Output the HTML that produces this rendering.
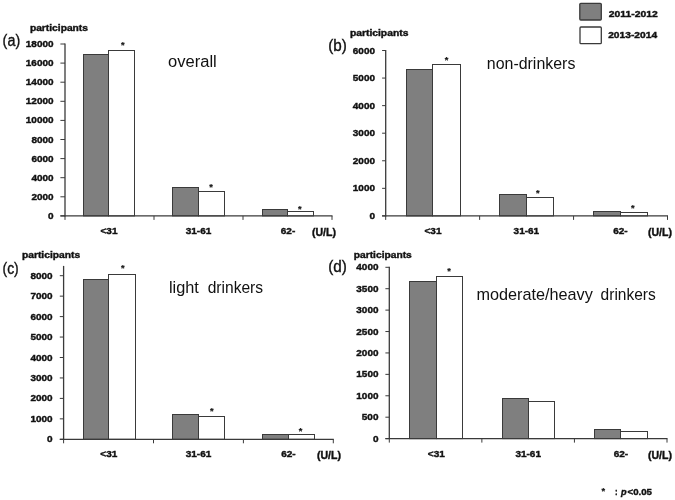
<!DOCTYPE html>
<html><head><meta charset="utf-8"><title>Figure</title>
<style>
html,body{margin:0;padding:0;background:#fff;}
svg{display:block;font-family:"Liberation Sans",sans-serif;fill:#111;}
svg text{fill:#111;}
</style></head><body>
<svg width="675" height="500" viewBox="0 0 675 500">
<rect x="0" y="0" width="675" height="500" fill="#ffffff" stroke="none"/>
<rect x="83.50" y="54.50" width="25.00" height="161.40" fill="#7f7f7f" stroke="#3a3a3a" stroke-width="1"/>
<rect x="108.50" y="50.50" width="26.00" height="165.40" fill="#ffffff" stroke="#3a3a3a" stroke-width="1"/>
<rect x="172.50" y="187.50" width="26.00" height="28.40" fill="#7f7f7f" stroke="#3a3a3a" stroke-width="1"/>
<rect x="198.50" y="191.50" width="26.00" height="24.40" fill="#ffffff" stroke="#3a3a3a" stroke-width="1"/>
<rect x="262.50" y="209.50" width="25.00" height="6.40" fill="#7f7f7f" stroke="#3a3a3a" stroke-width="1"/>
<rect x="287.50" y="211.50" width="26.00" height="4.40" fill="#ffffff" stroke="#3a3a3a" stroke-width="1"/>
<line x1="65.00" y1="43.50" x2="65.00" y2="216.40" stroke="#3a3a3a" stroke-width="1.3"/>
<line x1="60.40" y1="215.90" x2="332.50" y2="215.90" stroke="#3a3a3a" stroke-width="1.2"/>
<line x1="65.00" y1="215.90" x2="65.00" y2="219.90" stroke="#3a3a3a" stroke-width="1"/>
<line x1="154.00" y1="215.90" x2="154.00" y2="219.90" stroke="#3a3a3a" stroke-width="1"/>
<line x1="243.00" y1="215.90" x2="243.00" y2="219.90" stroke="#3a3a3a" stroke-width="1"/>
<line x1="332.00" y1="215.90" x2="332.00" y2="219.90" stroke="#3a3a3a" stroke-width="1"/>
<line x1="60.40" y1="215.90" x2="65.00" y2="215.90" stroke="#3a3a3a" stroke-width="1"/>
<text x="53.60" y="218.90" font-size="9.5" text-anchor="end" font-weight="700" textLength="5.6" lengthAdjust="spacingAndGlyphs" stroke="#111" stroke-width="0.4">0</text>
<line x1="60.40" y1="196.80" x2="65.00" y2="196.80" stroke="#3a3a3a" stroke-width="1"/>
<text x="53.60" y="199.80" font-size="9.5" text-anchor="end" font-weight="700" textLength="22.2" lengthAdjust="spacingAndGlyphs" stroke="#111" stroke-width="0.4">2000</text>
<line x1="60.40" y1="177.70" x2="65.00" y2="177.70" stroke="#3a3a3a" stroke-width="1"/>
<text x="53.60" y="180.70" font-size="9.5" text-anchor="end" font-weight="700" textLength="22.2" lengthAdjust="spacingAndGlyphs" stroke="#111" stroke-width="0.4">4000</text>
<line x1="60.40" y1="158.60" x2="65.00" y2="158.60" stroke="#3a3a3a" stroke-width="1"/>
<text x="53.60" y="161.60" font-size="9.5" text-anchor="end" font-weight="700" textLength="22.2" lengthAdjust="spacingAndGlyphs" stroke="#111" stroke-width="0.4">6000</text>
<line x1="60.40" y1="139.50" x2="65.00" y2="139.50" stroke="#3a3a3a" stroke-width="1"/>
<text x="53.60" y="142.50" font-size="9.5" text-anchor="end" font-weight="700" textLength="22.2" lengthAdjust="spacingAndGlyphs" stroke="#111" stroke-width="0.4">8000</text>
<line x1="60.40" y1="120.40" x2="65.00" y2="120.40" stroke="#3a3a3a" stroke-width="1"/>
<text x="53.60" y="123.40" font-size="9.5" text-anchor="end" font-weight="700" textLength="27.8" lengthAdjust="spacingAndGlyphs" stroke="#111" stroke-width="0.4">10000</text>
<line x1="60.40" y1="101.30" x2="65.00" y2="101.30" stroke="#3a3a3a" stroke-width="1"/>
<text x="53.60" y="104.30" font-size="9.5" text-anchor="end" font-weight="700" textLength="27.8" lengthAdjust="spacingAndGlyphs" stroke="#111" stroke-width="0.4">12000</text>
<line x1="60.40" y1="82.20" x2="65.00" y2="82.20" stroke="#3a3a3a" stroke-width="1"/>
<text x="53.60" y="85.20" font-size="9.5" text-anchor="end" font-weight="700" textLength="27.8" lengthAdjust="spacingAndGlyphs" stroke="#111" stroke-width="0.4">14000</text>
<line x1="60.40" y1="63.10" x2="65.00" y2="63.10" stroke="#3a3a3a" stroke-width="1"/>
<text x="53.60" y="66.10" font-size="9.5" text-anchor="end" font-weight="700" textLength="27.8" lengthAdjust="spacingAndGlyphs" stroke="#111" stroke-width="0.4">16000</text>
<line x1="60.40" y1="44.00" x2="65.00" y2="44.00" stroke="#3a3a3a" stroke-width="1"/>
<text x="53.60" y="47.00" font-size="9.5" text-anchor="end" font-weight="700" textLength="27.8" lengthAdjust="spacingAndGlyphs" stroke="#111" stroke-width="0.4">18000</text>
<text x="122.70" y="48" font-size="9.3" text-anchor="middle" font-weight="700" stroke="#111" stroke-width="0.2">*</text>
<text x="211.00" y="190" font-size="9.3" text-anchor="middle" font-weight="700" stroke="#111" stroke-width="0.2">*</text>
<text x="299.80" y="212" font-size="9.3" text-anchor="middle" font-weight="700" stroke="#111" stroke-width="0.2">*</text>
<text x="109.00" y="234.27" font-size="9.7" text-anchor="middle" font-weight="700" textLength="17.0" lengthAdjust="spacingAndGlyphs" stroke="#111" stroke-width="0.4">&lt;31</text>
<text x="198.50" y="234.27" font-size="9.7" text-anchor="middle" font-weight="700" textLength="25.6" lengthAdjust="spacingAndGlyphs" stroke="#111" stroke-width="0.4">31-61</text>
<text x="288.00" y="234.27" font-size="9.7" text-anchor="middle" font-weight="700" textLength="14.5" lengthAdjust="spacingAndGlyphs" stroke="#111" stroke-width="0.4">62-</text>
<text x="312.00" y="235.98" font-size="10.56" font-weight="700" textLength="24.0" lengthAdjust="spacingAndGlyphs" stroke="#111" stroke-width="0.4">(U/L)</text>
<rect x="406.50" y="69.50" width="26.00" height="146.40" fill="#7f7f7f" stroke="#3a3a3a" stroke-width="1"/>
<rect x="432.50" y="64.50" width="28.00" height="151.40" fill="#ffffff" stroke="#3a3a3a" stroke-width="1"/>
<rect x="499.50" y="194.50" width="27.00" height="21.40" fill="#7f7f7f" stroke="#3a3a3a" stroke-width="1"/>
<rect x="526.50" y="197.50" width="27.00" height="18.40" fill="#ffffff" stroke="#3a3a3a" stroke-width="1"/>
<rect x="593.50" y="211.50" width="27.00" height="4.40" fill="#7f7f7f" stroke="#3a3a3a" stroke-width="1"/>
<rect x="620.50" y="212.50" width="27.00" height="3.40" fill="#ffffff" stroke="#3a3a3a" stroke-width="1"/>
<line x1="385.70" y1="50.00" x2="385.70" y2="216.40" stroke="#3a3a3a" stroke-width="1.3"/>
<line x1="382.10" y1="215.90" x2="668.00" y2="215.90" stroke="#3a3a3a" stroke-width="1.2"/>
<line x1="385.70" y1="215.90" x2="385.70" y2="219.90" stroke="#3a3a3a" stroke-width="1"/>
<line x1="479.63" y1="215.90" x2="479.63" y2="219.90" stroke="#3a3a3a" stroke-width="1"/>
<line x1="573.57" y1="215.90" x2="573.57" y2="219.90" stroke="#3a3a3a" stroke-width="1"/>
<line x1="667.50" y1="215.90" x2="667.50" y2="219.90" stroke="#3a3a3a" stroke-width="1"/>
<line x1="382.10" y1="215.90" x2="385.70" y2="215.90" stroke="#3a3a3a" stroke-width="1"/>
<text x="375.00" y="218.90" font-size="9.5" text-anchor="end" font-weight="700" textLength="5.6" lengthAdjust="spacingAndGlyphs" stroke="#111" stroke-width="0.4">0</text>
<line x1="382.10" y1="188.33" x2="385.70" y2="188.33" stroke="#3a3a3a" stroke-width="1"/>
<text x="375.00" y="191.33" font-size="9.5" text-anchor="end" font-weight="700" textLength="22.2" lengthAdjust="spacingAndGlyphs" stroke="#111" stroke-width="0.4">1000</text>
<line x1="382.10" y1="160.77" x2="385.70" y2="160.77" stroke="#3a3a3a" stroke-width="1"/>
<text x="375.00" y="163.77" font-size="9.5" text-anchor="end" font-weight="700" textLength="22.2" lengthAdjust="spacingAndGlyphs" stroke="#111" stroke-width="0.4">2000</text>
<line x1="382.10" y1="133.20" x2="385.70" y2="133.20" stroke="#3a3a3a" stroke-width="1"/>
<text x="375.00" y="136.20" font-size="9.5" text-anchor="end" font-weight="700" textLength="22.2" lengthAdjust="spacingAndGlyphs" stroke="#111" stroke-width="0.4">3000</text>
<line x1="382.10" y1="105.63" x2="385.70" y2="105.63" stroke="#3a3a3a" stroke-width="1"/>
<text x="375.00" y="108.63" font-size="9.5" text-anchor="end" font-weight="700" textLength="22.2" lengthAdjust="spacingAndGlyphs" stroke="#111" stroke-width="0.4">4000</text>
<line x1="382.10" y1="78.07" x2="385.70" y2="78.07" stroke="#3a3a3a" stroke-width="1"/>
<text x="375.00" y="81.07" font-size="9.5" text-anchor="end" font-weight="700" textLength="22.2" lengthAdjust="spacingAndGlyphs" stroke="#111" stroke-width="0.4">5000</text>
<line x1="382.10" y1="50.50" x2="385.70" y2="50.50" stroke="#3a3a3a" stroke-width="1"/>
<text x="375.00" y="53.50" font-size="9.5" text-anchor="end" font-weight="700" textLength="22.2" lengthAdjust="spacingAndGlyphs" stroke="#111" stroke-width="0.4">6000</text>
<text x="446.60" y="63" font-size="9.3" text-anchor="middle" font-weight="700" stroke="#111" stroke-width="0.2">*</text>
<text x="537.70" y="196" font-size="9.3" text-anchor="middle" font-weight="700" stroke="#111" stroke-width="0.2">*</text>
<text x="632.70" y="211" font-size="9.3" text-anchor="middle" font-weight="700" stroke="#111" stroke-width="0.2">*</text>
<text x="433.00" y="234.27" font-size="9.7" text-anchor="middle" font-weight="700" textLength="17.0" lengthAdjust="spacingAndGlyphs" stroke="#111" stroke-width="0.4">&lt;31</text>
<text x="526.40" y="234.27" font-size="9.7" text-anchor="middle" font-weight="700" textLength="25.6" lengthAdjust="spacingAndGlyphs" stroke="#111" stroke-width="0.4">31-61</text>
<text x="620.40" y="234.27" font-size="9.7" text-anchor="middle" font-weight="700" textLength="14.5" lengthAdjust="spacingAndGlyphs" stroke="#111" stroke-width="0.4">62-</text>
<text x="648.00" y="236.18" font-size="10.56" font-weight="700" textLength="24.0" lengthAdjust="spacingAndGlyphs" stroke="#111" stroke-width="0.4">(U/L)</text>
<rect x="83.50" y="279.50" width="25.00" height="159.80" fill="#7f7f7f" stroke="#3a3a3a" stroke-width="1"/>
<rect x="108.50" y="274.50" width="27.00" height="164.80" fill="#ffffff" stroke="#3a3a3a" stroke-width="1"/>
<rect x="172.50" y="414.50" width="26.00" height="24.80" fill="#7f7f7f" stroke="#3a3a3a" stroke-width="1"/>
<rect x="198.50" y="416.50" width="26.00" height="22.80" fill="#ffffff" stroke="#3a3a3a" stroke-width="1"/>
<rect x="262.50" y="434.50" width="26.00" height="4.80" fill="#7f7f7f" stroke="#3a3a3a" stroke-width="1"/>
<rect x="288.50" y="434.50" width="26.00" height="4.80" fill="#ffffff" stroke="#3a3a3a" stroke-width="1"/>
<line x1="63.60" y1="265.90" x2="63.60" y2="439.80" stroke="#3a3a3a" stroke-width="1.3"/>
<line x1="59.80" y1="439.30" x2="333.80" y2="439.30" stroke="#3a3a3a" stroke-width="1.2"/>
<line x1="63.60" y1="439.30" x2="63.60" y2="443.30" stroke="#3a3a3a" stroke-width="1"/>
<line x1="153.50" y1="439.30" x2="153.50" y2="443.30" stroke="#3a3a3a" stroke-width="1"/>
<line x1="243.40" y1="439.30" x2="243.40" y2="443.30" stroke="#3a3a3a" stroke-width="1"/>
<line x1="333.30" y1="439.30" x2="333.30" y2="443.30" stroke="#3a3a3a" stroke-width="1"/>
<line x1="59.80" y1="439.30" x2="63.60" y2="439.30" stroke="#3a3a3a" stroke-width="1"/>
<text x="52.60" y="442.30" font-size="9.5" text-anchor="end" font-weight="700" textLength="5.6" lengthAdjust="spacingAndGlyphs" stroke="#111" stroke-width="0.4">0</text>
<line x1="59.80" y1="418.85" x2="63.60" y2="418.85" stroke="#3a3a3a" stroke-width="1"/>
<text x="52.60" y="421.85" font-size="9.5" text-anchor="end" font-weight="700" textLength="22.2" lengthAdjust="spacingAndGlyphs" stroke="#111" stroke-width="0.4">1000</text>
<line x1="59.80" y1="398.40" x2="63.60" y2="398.40" stroke="#3a3a3a" stroke-width="1"/>
<text x="52.60" y="401.40" font-size="9.5" text-anchor="end" font-weight="700" textLength="22.2" lengthAdjust="spacingAndGlyphs" stroke="#111" stroke-width="0.4">2000</text>
<line x1="59.80" y1="377.95" x2="63.60" y2="377.95" stroke="#3a3a3a" stroke-width="1"/>
<text x="52.60" y="380.95" font-size="9.5" text-anchor="end" font-weight="700" textLength="22.2" lengthAdjust="spacingAndGlyphs" stroke="#111" stroke-width="0.4">3000</text>
<line x1="59.80" y1="357.50" x2="63.60" y2="357.50" stroke="#3a3a3a" stroke-width="1"/>
<text x="52.60" y="360.50" font-size="9.5" text-anchor="end" font-weight="700" textLength="22.2" lengthAdjust="spacingAndGlyphs" stroke="#111" stroke-width="0.4">4000</text>
<line x1="59.80" y1="337.05" x2="63.60" y2="337.05" stroke="#3a3a3a" stroke-width="1"/>
<text x="52.60" y="340.05" font-size="9.5" text-anchor="end" font-weight="700" textLength="22.2" lengthAdjust="spacingAndGlyphs" stroke="#111" stroke-width="0.4">5000</text>
<line x1="59.80" y1="316.60" x2="63.60" y2="316.60" stroke="#3a3a3a" stroke-width="1"/>
<text x="52.60" y="319.60" font-size="9.5" text-anchor="end" font-weight="700" textLength="22.2" lengthAdjust="spacingAndGlyphs" stroke="#111" stroke-width="0.4">6000</text>
<line x1="59.80" y1="296.15" x2="63.60" y2="296.15" stroke="#3a3a3a" stroke-width="1"/>
<text x="52.60" y="299.15" font-size="9.5" text-anchor="end" font-weight="700" textLength="22.2" lengthAdjust="spacingAndGlyphs" stroke="#111" stroke-width="0.4">7000</text>
<line x1="59.80" y1="275.70" x2="63.60" y2="275.70" stroke="#3a3a3a" stroke-width="1"/>
<text x="52.60" y="278.70" font-size="9.5" text-anchor="end" font-weight="700" textLength="22.2" lengthAdjust="spacingAndGlyphs" stroke="#111" stroke-width="0.4">8000</text>
<text x="122.70" y="271" font-size="9.3" text-anchor="middle" font-weight="700" stroke="#111" stroke-width="0.2">*</text>
<text x="211.90" y="414" font-size="9.3" text-anchor="middle" font-weight="700" stroke="#111" stroke-width="0.2">*</text>
<text x="300.50" y="434" font-size="9.3" text-anchor="middle" font-weight="700" stroke="#111" stroke-width="0.2">*</text>
<text x="108.80" y="456.97" font-size="9.7" text-anchor="middle" font-weight="700" textLength="17.0" lengthAdjust="spacingAndGlyphs" stroke="#111" stroke-width="0.4">&lt;31</text>
<text x="198.50" y="456.97" font-size="9.7" text-anchor="middle" font-weight="700" textLength="25.6" lengthAdjust="spacingAndGlyphs" stroke="#111" stroke-width="0.4">31-61</text>
<text x="288.40" y="456.97" font-size="9.7" text-anchor="middle" font-weight="700" textLength="14.5" lengthAdjust="spacingAndGlyphs" stroke="#111" stroke-width="0.4">62-</text>
<text x="317.00" y="459.18" font-size="10.56" font-weight="700" textLength="24.0" lengthAdjust="spacingAndGlyphs" stroke="#111" stroke-width="0.4">(U/L)</text>
<rect x="409.50" y="281.50" width="27.00" height="157.10" fill="#7f7f7f" stroke="#3a3a3a" stroke-width="1"/>
<rect x="436.50" y="276.50" width="26.00" height="162.10" fill="#ffffff" stroke="#3a3a3a" stroke-width="1"/>
<rect x="502.50" y="398.50" width="26.00" height="40.10" fill="#7f7f7f" stroke="#3a3a3a" stroke-width="1"/>
<rect x="528.50" y="401.50" width="26.00" height="37.10" fill="#ffffff" stroke="#3a3a3a" stroke-width="1"/>
<rect x="594.50" y="429.50" width="26.00" height="9.10" fill="#7f7f7f" stroke="#3a3a3a" stroke-width="1"/>
<rect x="620.50" y="431.50" width="27.00" height="7.10" fill="#ffffff" stroke="#3a3a3a" stroke-width="1"/>
<line x1="389.30" y1="266.80" x2="389.30" y2="439.10" stroke="#3a3a3a" stroke-width="1.3"/>
<line x1="385.40" y1="438.60" x2="667.50" y2="438.60" stroke="#3a3a3a" stroke-width="1.2"/>
<line x1="389.30" y1="438.60" x2="389.30" y2="442.60" stroke="#3a3a3a" stroke-width="1"/>
<line x1="481.87" y1="438.60" x2="481.87" y2="442.60" stroke="#3a3a3a" stroke-width="1"/>
<line x1="574.43" y1="438.60" x2="574.43" y2="442.60" stroke="#3a3a3a" stroke-width="1"/>
<line x1="667.00" y1="438.60" x2="667.00" y2="442.60" stroke="#3a3a3a" stroke-width="1"/>
<line x1="385.40" y1="438.60" x2="389.30" y2="438.60" stroke="#3a3a3a" stroke-width="1"/>
<text x="378.50" y="441.60" font-size="9.5" text-anchor="end" font-weight="700" textLength="5.6" lengthAdjust="spacingAndGlyphs" stroke="#111" stroke-width="0.4">0</text>
<line x1="385.40" y1="417.19" x2="389.30" y2="417.19" stroke="#3a3a3a" stroke-width="1"/>
<text x="378.50" y="420.19" font-size="9.5" text-anchor="end" font-weight="700" textLength="16.7" lengthAdjust="spacingAndGlyphs" stroke="#111" stroke-width="0.4">500</text>
<line x1="385.40" y1="395.78" x2="389.30" y2="395.78" stroke="#3a3a3a" stroke-width="1"/>
<text x="378.50" y="398.78" font-size="9.5" text-anchor="end" font-weight="700" textLength="22.2" lengthAdjust="spacingAndGlyphs" stroke="#111" stroke-width="0.4">1000</text>
<line x1="385.40" y1="374.36" x2="389.30" y2="374.36" stroke="#3a3a3a" stroke-width="1"/>
<text x="378.50" y="377.36" font-size="9.5" text-anchor="end" font-weight="700" textLength="22.2" lengthAdjust="spacingAndGlyphs" stroke="#111" stroke-width="0.4">1500</text>
<line x1="385.40" y1="352.95" x2="389.30" y2="352.95" stroke="#3a3a3a" stroke-width="1"/>
<text x="378.50" y="355.95" font-size="9.5" text-anchor="end" font-weight="700" textLength="22.2" lengthAdjust="spacingAndGlyphs" stroke="#111" stroke-width="0.4">2000</text>
<line x1="385.40" y1="331.54" x2="389.30" y2="331.54" stroke="#3a3a3a" stroke-width="1"/>
<text x="378.50" y="334.54" font-size="9.5" text-anchor="end" font-weight="700" textLength="22.2" lengthAdjust="spacingAndGlyphs" stroke="#111" stroke-width="0.4">2500</text>
<line x1="385.40" y1="310.12" x2="389.30" y2="310.12" stroke="#3a3a3a" stroke-width="1"/>
<text x="378.50" y="313.13" font-size="9.5" text-anchor="end" font-weight="700" textLength="22.2" lengthAdjust="spacingAndGlyphs" stroke="#111" stroke-width="0.4">3000</text>
<line x1="385.40" y1="288.71" x2="389.30" y2="288.71" stroke="#3a3a3a" stroke-width="1"/>
<text x="378.50" y="291.71" font-size="9.5" text-anchor="end" font-weight="700" textLength="22.2" lengthAdjust="spacingAndGlyphs" stroke="#111" stroke-width="0.4">3500</text>
<line x1="385.40" y1="267.30" x2="389.30" y2="267.30" stroke="#3a3a3a" stroke-width="1"/>
<text x="378.50" y="270.30" font-size="9.5" text-anchor="end" font-weight="700" textLength="22.2" lengthAdjust="spacingAndGlyphs" stroke="#111" stroke-width="0.4">4000</text>
<text x="449.10" y="274" font-size="9.3" text-anchor="middle" font-weight="700" stroke="#111" stroke-width="0.2">*</text>
<text x="436.30" y="457.07" font-size="9.7" text-anchor="middle" font-weight="700" textLength="17.0" lengthAdjust="spacingAndGlyphs" stroke="#111" stroke-width="0.4">&lt;31</text>
<text x="528.20" y="457.07" font-size="9.7" text-anchor="middle" font-weight="700" textLength="25.6" lengthAdjust="spacingAndGlyphs" stroke="#111" stroke-width="0.4">31-61</text>
<text x="620.90" y="457.07" font-size="9.7" text-anchor="middle" font-weight="700" textLength="14.5" lengthAdjust="spacingAndGlyphs" stroke="#111" stroke-width="0.4">62-</text>
<text x="648.00" y="459.28" font-size="10.56" font-weight="700" textLength="24.0" lengthAdjust="spacingAndGlyphs" stroke="#111" stroke-width="0.4">(U/L)</text>
<text x="29.90" y="31.31" font-size="9.5" font-weight="700" textLength="58.1" lengthAdjust="spacingAndGlyphs" stroke="#111" stroke-width="0.4">participants</text>
<text x="349.90" y="35.81" font-size="9.5" font-weight="700" textLength="58.5" lengthAdjust="spacingAndGlyphs" stroke="#111" stroke-width="0.4">participants</text>
<text x="21.90" y="257.61" font-size="9.5" font-weight="700" textLength="58.3" lengthAdjust="spacingAndGlyphs" stroke="#111" stroke-width="0.4">participants</text>
<text x="353.80" y="257.61" font-size="9.5" font-weight="700" textLength="58.0" lengthAdjust="spacingAndGlyphs" stroke="#111" stroke-width="0.4">participants</text>
<text x="2.60" y="46.00" font-size="15.6" textLength="17.6" lengthAdjust="spacingAndGlyphs" stroke="#111" stroke-width="0.35">(a)</text>
<text x="328.30" y="51.00" font-size="15.6" textLength="18.6" lengthAdjust="spacingAndGlyphs" stroke="#111" stroke-width="0.35">(b)</text>
<text x="2.50" y="274.00" font-size="15.6" textLength="16.2" lengthAdjust="spacingAndGlyphs" stroke="#111" stroke-width="0.35">(c)</text>
<text x="328.30" y="272.00" font-size="15.6" textLength="18.6" lengthAdjust="spacingAndGlyphs" stroke="#111" stroke-width="0.35">(d)</text>
<text x="168.10" y="66.80" font-size="16" textLength="48.7" lengthAdjust="spacingAndGlyphs">overall</text>
<text x="486.80" y="69.30" font-size="15.8" textLength="88.6" lengthAdjust="spacingAndGlyphs">non-drinkers</text>
<text y="293" font-size="15.7"><tspan x="168.9" textLength="29.9" lengthAdjust="spacingAndGlyphs">light</tspan> <tspan x="207.7" textLength="55.4" lengthAdjust="spacingAndGlyphs">drinkers</tspan></text>
<text y="300.2" font-size="15.7"><tspan x="476.4" textLength="116.4" lengthAdjust="spacingAndGlyphs">moderate/heavy</tspan> <tspan x="600.6" textLength="55.2" lengthAdjust="spacingAndGlyphs">drinkers</tspan></text>
<rect x="579.8" y="3.3" width="21.5" height="16.7" rx="1" fill="#7f7f7f" stroke="#3a3a3a" stroke-width="1.3"/>
<rect x="580" y="27" width="21.3" height="16.7" rx="1" fill="#fff" stroke="#3a3a3a" stroke-width="1.3"/>
<text x="608.80" y="17.20" font-size="9.5" font-weight="700" textLength="48.9" lengthAdjust="spacingAndGlyphs" stroke="#111" stroke-width="0.4">2011-2012</text>
<text x="608.20" y="38.20" font-size="9.5" font-weight="700" textLength="48.9" lengthAdjust="spacingAndGlyphs" stroke="#111" stroke-width="0.4">2013-2014</text>
<text x="603.20" y="494" font-size="9.3" text-anchor="middle" font-weight="700" stroke="#111" stroke-width="0.2">*</text>
<text x="615.00" y="494.67" font-size="9.7" font-weight="700" textLength="2.6" lengthAdjust="spacingAndGlyphs" stroke="#111" stroke-width="0.4">:</text>
<text x="620.90" y="494.53" font-size="9.3" font-weight="700" textLength="5.6" lengthAdjust="spacingAndGlyphs" font-style="italic" stroke="#111" stroke-width="0.4">p</text>
<text x="627.50" y="494.67" font-size="9.7" font-weight="700" textLength="24.5" lengthAdjust="spacingAndGlyphs" stroke="#111" stroke-width="0.4">&lt;0.05</text>
</svg>
</body></html>
